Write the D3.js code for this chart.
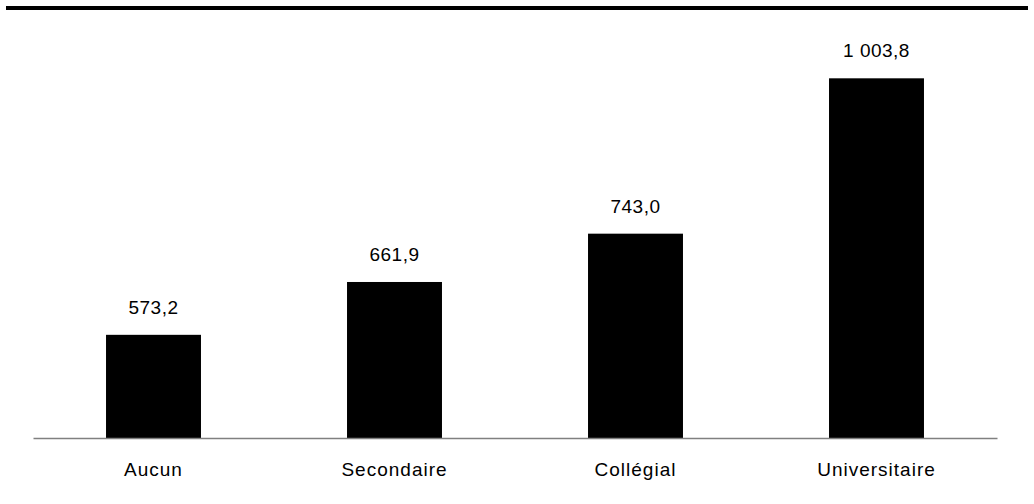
<!DOCTYPE html>
<html>
<head>
<meta charset="utf-8">
<script src="https://cdn.jsdelivr.net/npm/d3@7"></script>
<style>
  html, body { margin: 0; padding: 0; background: #fff; }
  svg { display: block; }
  text { font-family: Arial, "Liberation Sans", sans-serif; fill: #000; }
</style>
</head>
<body>
<script>
// Revenu selon le niveau de scolarité
const categories = ["Aucun", "Secondaire", "Collégial", "Universitaire"];
const values = [573.2, 661.9, 743.0, 1003.8];
const valueLabels = ["573,2", "661,9", "743,0", "1 003,8"];

const width = 1034, height = 504;
const plot = { left: 33, right: 997, top: 21, bottom: 438 };

const svg = d3.select("body").append("svg")
  .attr("width", width)
  .attr("height", height);

// Filet noir en haut
svg.append("rect")
  .attr("x", 6).attr("y", 6)
  .attr("width", 1022).attr("height", 4)
  .attr("fill", "#000");

const x = d3.scaleBand()
  .domain(categories)
  .range([plot.left, plot.right])
  .paddingInner(0.606)
  .paddingOuter(0.303);

const y = d3.scaleLinear()
  .domain([400, 1100])
  .range([plot.bottom, plot.top]);

// Barres
svg.append("g").selectAll("rect")
  .data(values)
  .join("rect")
  .attr("x", (d, i) => x(categories[i]))
  .attr("y", d => y(d))
  .attr("width", x.bandwidth())
  .attr("height", d => y(400) - y(d))
  .attr("fill", "#000");

// Étiquettes de valeur
svg.append("g").selectAll("text")
  .data(values)
  .join("text")
  .attr("x", (d, i) => x(categories[i]) + x.bandwidth() / 2)
  .attr("y", d => y(d) - 21)
  .attr("text-anchor", "middle")
  .attr("font-size", 19)
  .attr("letter-spacing", 0.5)
  .text((d, i) => valueLabels[i]);

// Axe des catégories
const xAxis = svg.append("g")
  .attr("transform", `translate(0,${plot.bottom})`)
  .call(d3.axisBottom(x).tickSize(0).tickPadding(25));
xAxis.select(".domain").attr("stroke", "#808080").attr("stroke-width", 1.5);
xAxis.selectAll("text")
  .attr("font-size", 19)
  .attr("letter-spacing", 1)
  .attr("font-family", "Arial, 'Liberation Sans', sans-serif")
  .attr("fill", "#000");
</script>
</body>
</html>
